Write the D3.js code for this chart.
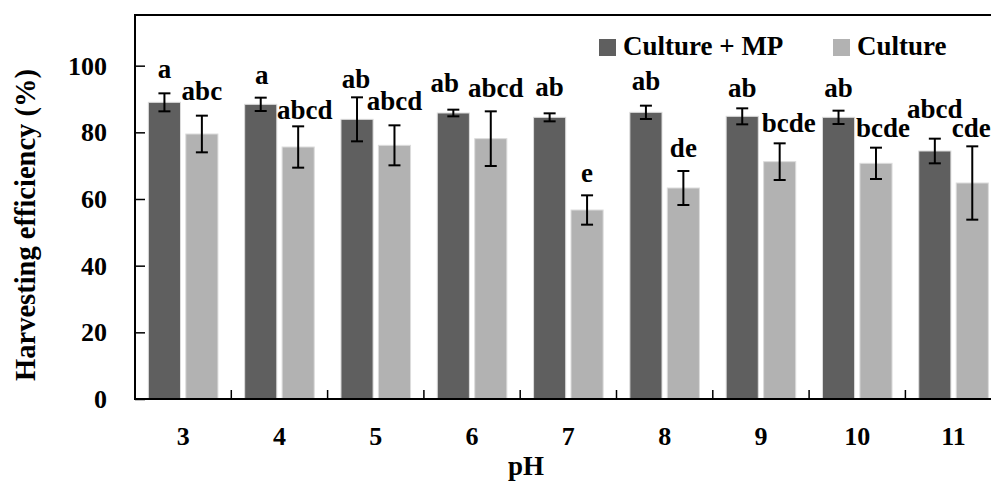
<!DOCTYPE html>
<html>
<head>
<meta charset="utf-8">
<script src="https://cdn.jsdelivr.net/npm/d3@7"></script>
<style>
  html, body { margin: 0; padding: 0; background: #fff; }
  svg { display: block; }
  text { font-family: "Liberation Serif", "Times New Roman", serif; font-weight: bold; fill: #000; }
</style>
</head>
<body>
<div id="chart"></div>
<script>
// ---- data ----
const phLevels = ["3", "4", "5", "6", "7", "8", "9", "10", "11"];
const seriesNames = ["Culture + MP", "Culture"];
const meanMP = [89.0, 88.4, 83.9, 85.8, 84.5, 86.0, 84.8, 84.5, 74.4];
const errMP  = [2.7, 2.0, 6.6, 1.0, 1.2, 2.0, 2.4, 2.0, 3.7];
const meanC  = [79.5, 75.6, 76.1, 78.1, 56.7, 63.3, 71.2, 70.7, 64.8];
const errC   = [5.5, 6.2, 6.0, 8.2, 4.4, 5.1, 5.5, 4.7, 11.0];
const lettersMP = ["a", "a", "ab", "ab", "ab", "ab", "ab", "ab", "abcd"];
const lettersC  = ["abc", "abcd", "abcd", "abcd", "e", "de", "bcde", "bcde", "cde"];
// value level (%) at which each letter label sits
const labelAtMP = [96.4, 94.4, 93.4, 92.2, 91.0, 92.7, 90.7, 90.7, 84.2];
const labelAtC  = [89.7, 84.0, 86.7, 90.7, 65.2, 72.7, 80.0, 78.7, 78.7];
const yTicks = [0, 20, 40, 60, 80, 100];

// ---- layout ----
const W = 991, H = 481;
const mLeft = 135, mTop = 15, mBottom = 399, plotRight = 1001.7;
const colors = { "Culture + MP": "#5f5f5f", "Culture": "#b2b2b2" };
const nudgeMP = [0, 1, -1, -8.6, 0, 0, 0, 0, 0];
const nudgeC  = [0, 6.7, 0, 5, 0, 0, 9, 7, -1];

const rows = phLevels.map((p, i) => ({
  ph: p,
  vals: [
    { s: seriesNames[0], v: meanMP[i], e: errMP[i], lab: lettersMP[i], at: labelAtMP[i], dx: nudgeMP[i] },
    { s: seriesNames[1], v: meanC[i],  e: errC[i],  lab: lettersC[i],  at: labelAtC[i],  dx: nudgeC[i] }
  ]
}));

const svg = d3.select("#chart").append("svg").attr("width", W).attr("height", H);

const x0 = d3.scaleBand().domain(phLevels).range([mLeft, plotRight]).paddingInner(0).paddingOuter(0);
const x1 = d3.scaleBand().domain(seriesNames).range([0, x0.bandwidth()]).paddingInner(0.142).paddingOuter(0.357);
const y = d3.scaleLinear().domain([0, 115.2]).range([mBottom, mTop]);

// bars
const g = svg.append("g");
const groups = g.selectAll("g.grp").data(rows).join("g").attr("class", "grp")
  .attr("transform", d => `translate(${x0(d.ph)},0)`);

groups.selectAll("rect").data(d => d.vals).join("rect")
  .attr("x", d => x1(d.s))
  .attr("y", d => y(d.v))
  .attr("width", x1.bandwidth())
  .attr("height", d => y(0) - y(d.v))
  .attr("fill", d => colors[d.s])
  .attr("stroke", "#dcdcdc")
  .attr("stroke-width", 1);

// error bars
const cap = 6;
const eb = groups.selectAll("g.eb").data(d => d.vals).join("g").attr("class", "eb")
  .attr("transform", d => `translate(${x1(d.s) + x1.bandwidth() / 2},0)`);
eb.append("line").attr("x1", 0).attr("x2", 0)
  .attr("y1", d => y(d.v + d.e)).attr("y2", d => y(d.v - d.e))
  .attr("stroke", "#000").attr("stroke-width", 2);
eb.append("line").attr("x1", -cap).attr("x2", cap)
  .attr("y1", d => y(d.v + d.e)).attr("y2", d => y(d.v + d.e))
  .attr("stroke", "#000").attr("stroke-width", 2);
eb.append("line").attr("x1", -cap).attr("x2", cap)
  .attr("y1", d => y(d.v - d.e)).attr("y2", d => y(d.v - d.e))
  .attr("stroke", "#000").attr("stroke-width", 2);

// letter labels
groups.selectAll("text.lab").data(d => d.vals).join("text").attr("class", "lab")
  .attr("x", d => x1(d.s) + x1.bandwidth() / 2 + d.dx)
  .attr("y", d => y(d.at))
  .attr("text-anchor", "middle")
  .style("font-size", "27px")
  .text(d => d.lab);

// y axis
const yAxis = d3.axisLeft(y).tickValues(yTicks).tickSize(0).tickPadding(0);
const ya = svg.append("g").attr("transform", `translate(${mLeft},0)`).call(yAxis);
ya.select(".domain").remove();
ya.selectAll(".tick text").attr("x", -28).attr("dy", "0.33em")
  .style("font-size", "26px").style("font-family", "'Liberation Serif', serif").style("font-weight", "bold").attr("fill", "#000");
ya.selectAll(".tick").append("line").attr("x1", 0).attr("x2", 10).attr("y1", 0).attr("y2", 0)
  .attr("stroke", "#000").attr("stroke-width", 1.5);

// x axis labels
const xAxis = d3.axisBottom(x0).tickSize(0).tickPadding(0);
const xa = svg.append("g").attr("transform", `translate(0,${mBottom})`).call(xAxis);
xa.select(".domain").remove();
xa.selectAll(".tick text").attr("y", 46).attr("dy", 0)
  .style("font-size", "26px").style("font-family", "'Liberation Serif', serif").style("font-weight", "bold").attr("fill", "#000");

// x ticks at band boundaries
svg.append("g").selectAll("line").data(phLevels.slice(1)).join("line")
  .attr("x1", d => x0(d)).attr("x2", d => x0(d))
  .attr("y1", mBottom).attr("y2", mBottom - 9)
  .attr("stroke", "#000").attr("stroke-width", 1.5);

// frame lines
svg.append("line").attr("x1", mLeft).attr("x2", mLeft).attr("y1", mTop).attr("y2", mBottom + 1)
  .attr("stroke", "#000").attr("stroke-width", 2);
svg.append("line").attr("x1", mLeft - 1).attr("x2", W).attr("y1", mBottom).attr("y2", mBottom)
  .attr("stroke", "#000").attr("stroke-width", 2);
svg.append("line").attr("x1", mLeft - 1).attr("x2", W).attr("y1", mTop).attr("y2", mTop)
  .attr("stroke", "#000").attr("stroke-width", 2);

// axis titles
svg.append("text").attr("transform", "translate(35,225) rotate(-90)")
  .attr("text-anchor", "middle").style("font-size", "28.5px")
  .text("Harvesting efficiency (%)");
svg.append("text").attr("x", 526).attr("y", 475).attr("text-anchor", "middle")
  .style("font-size", "27px").text("pH");

// legend
const legX = [599, 833];
const leg = svg.append("g").selectAll("g").data(seriesNames).join("g")
  .attr("transform", (d, i) => `translate(${legX[i]},39)`);
leg.append("rect").attr("width", 17).attr("height", 17).attr("fill", d => colors[d]);
leg.append("text").attr("x", 24).attr("y", 16).style("font-size", "27px").text(d => d);
</script>
</body>
</html>
